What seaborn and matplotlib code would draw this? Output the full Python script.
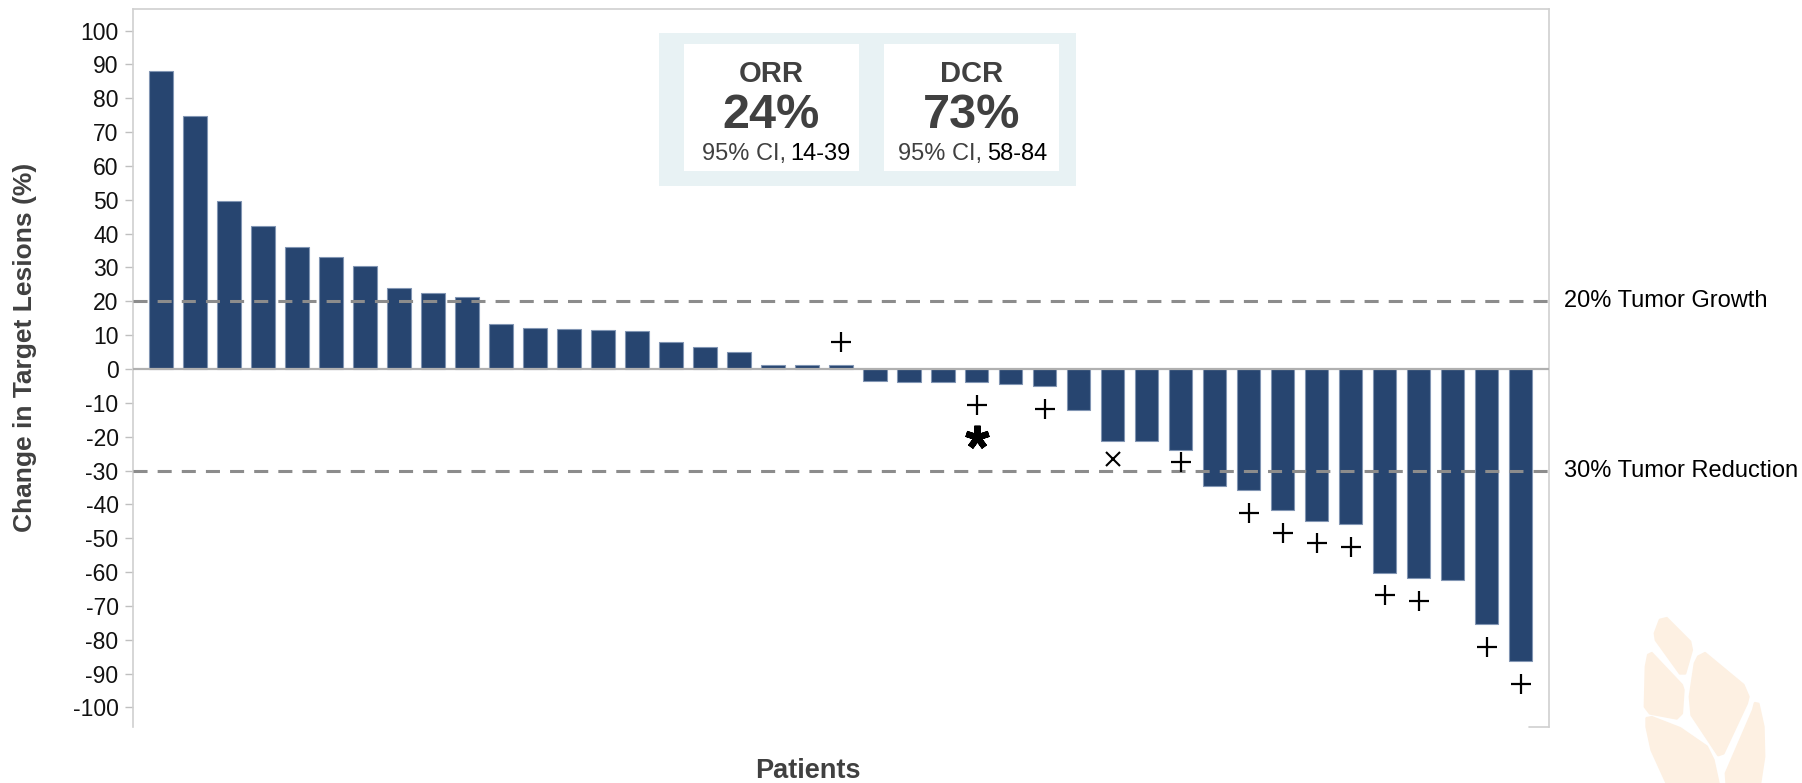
import pandas as pd
import matplotlib
matplotlib.use('Agg')
import matplotlib.pyplot as plt
import matplotlib.transforms as mtransforms
from matplotlib.patches import Rectangle, Polygon
import seaborn as sns

# waterfall values (best % change per patient)
patients = list(range(1, 42))
change = [88.0, 74.7, 49.7, 42.2, 36.1, 33.1, 30.3, 23.9, 22.5, 21.4,
          13.3, 12.2, 11.9, 11.6, 11.1, 7.9, 6.5, 4.9, 1.1, 1.1, 1.1,
          -3.5, -3.9, -3.9, -3.9, -4.5, -5.0, -12.2, -21.2, -21.2, -24.0,
          -34.7, -35.9, -41.8, -44.8, -45.7, -60.3, -61.9, -62.4, -75.5, -86.4]

# (bar position, symbol, gap from bar end)
markers = [(20, '+', 6.8), (24, '+', 6.8), (24, '*', 16.2), (26, '+', 6.7),
           (28, 'x', 5.5), (30, '+', 3.6), (32, '+', 6.7), (33, '+', 6.7),
           (34, '+', 6.7), (35, '+', 6.8), (36, '+', 6.5), (37, '+', 6.7),
           (39, '+', 6.8), (40, '+', 6.8)]

thresholds = [20, -30]
threshold_labels = ['20% Tumor Growth', '30% Tumor Reduction']
yticks = list(range(-100, 101, 10))

stats = [('ORR', '24%', '14-39'), ('DCR', '73%', '58-84')]

df = pd.DataFrame({'patient': patients, 'change': change})

sns.set_style('white')
plt.rcParams['font.family'] = ['Liberation Sans', 'DejaVu Sans']

W, H = 1802, 783
fig = plt.figure(figsize=(W / 100, H / 100), dpi=100)
ax = fig.add_axes([132.5 / W, 1 - 727 / H, (1548.6 - 132.5) / W, (727 - 9.3) / H])

bar_color = '#274570'
sns.barplot(data=df, x='patient', y='change', order=patients, color=bar_color,
            saturation=1, width=0.685, edgecolor='#8195b3', linewidth=0.8, ax=ax)

ax.set_xlim(-0.84, 40.82)
ax.set_ylim(-105.8, 106.3)
ax.set_yticks(yticks)
ax.set_yticklabels([str(t) for t in yticks], fontsize=16.5, color='#111111')
ax.set_xticks([])
ax.set_xlabel('')
ax.set_ylabel('')
ax.tick_params(axis='y', left=True, length=5.5, width=1, color='#bfbfbf', pad=4.5)

for side in ['left', 'top', 'right']:
    ax.spines[side].set_color('#d0d0d0')
    ax.spines[side].set_linewidth(1.2)
ax.spines['bottom'].set_visible(False)
ax.plot([0.9865, 1], [0, 0], transform=ax.transAxes, color='#d0d0d0', lw=1.2, clip_on=False)

ax.axhline(0, color='#b0b0b0', lw=1.6, zorder=3)
blend = mtransforms.blended_transform_factory(ax.transAxes, ax.transData)
for t, lab in zip(thresholds, threshold_labels):
    ax.axhline(t, color='#8c8c8c', lw=2.2, linestyle=(0, (4.6, 3.3)), zorder=4)
    ax.text(1.0109, t, lab, transform=blend, ha='left', va='center', fontsize=17,
            color='black', clip_on=False)

for pos, sym, gap in markers:
    v = change[pos]
    y = v + gap if v > 0 else v - gap
    if sym == '+':
        ax.plot(pos, y, marker='+', ms=14, mew=1.6, color='black', zorder=5)
    elif sym == 'x':
        ax.plot(pos, y, marker='x', ms=10, mew=1.5, color='black', zorder=5)
    else:
        ax.plot(pos, y, marker=(5, 2, 0), ms=17, mew=4.5, color='black', zorder=5)

# axis titles
fig.text(25 / W, 0.556, 'Change in Target Lesions (%)', rotation=90, ha='center', va='center',
         fontsize=19, fontweight='bold', color='#404040')
fig.text(808 / W, 1 - 778 / H, 'Patients', ha='center', va='baseline',
         fontsize=19.5, fontweight='bold', color='#404040')

# ORR / DCR box
def fx(px):
    return px / W

def fy(py):
    return 1 - py / H

fig.patches.append(Rectangle((fx(659.3), fy(185.7)), fx(1076) - fx(659.3), fy(32.5) - fy(185.7),
                             transform=fig.transFigure, facecolor='#e8f2f4', edgecolor='none', zorder=0))
for i, (name, pct, ci) in enumerate(stats):
    left = 684 + i * 200
    fig.patches.append(Rectangle((fx(left), fy(170.7)), fx(175), fy(44) - fy(170.7),
                                 transform=fig.transFigure, facecolor='white', edgecolor='none', zorder=0))
    cx = left + 87.5
    fig.text(fx(cx), fy(81.7), name, ha='center', va='baseline', fontsize=21,
             fontweight='bold', color='#404040')
    fig.text(fx(cx), fy(128.3), pct, ha='center', va='baseline', fontsize=35,
             fontweight='bold', color='#404040')
    split = cx + 17 - i * 3
    fig.text(fx(split - 3), fy(160), '95% CI,', ha='right', va='baseline', fontsize=17, color='#404040')
    fig.text(fx(split + 2), fy(160), ci, ha='left', va='baseline', fontsize=17, color='black')

# faint leaf watermark bottom right
leaf = [
    [(1660, 620), (1666.7, 618.3), (1690, 641.7), (1691.7, 650), (1685, 673.3), (1680, 673.3), (1656, 640), (1655, 633.3)],
    [(1648.3, 655), (1651.7, 653.3), (1681.7, 685), (1683.3, 690), (1681.7, 713.3), (1676.7, 718.3), (1650, 713.3), (1645, 706.7), (1646, 666.7)],
    [(1698.3, 656.7), (1705, 653.3), (1743.3, 685), (1748.3, 696.7), (1746.7, 703.3), (1723.3, 753.3), (1718.3, 755), (1691.7, 715), (1690, 696.7), (1695, 663.3)],
    [(1646.7, 718.3), (1651.7, 717.3), (1680, 728.3), (1706.7, 746.7), (1713.3, 760), (1718.3, 783), (1666.7, 783), (1651.7, 750), (1646.7, 726.7)],
    [(1755, 703.3), (1758.3, 704), (1763.3, 726.7), (1764, 756.7), (1760, 783), (1726.7, 783), (1726, 773.3), (1753.3, 710)],
]
for shape in leaf:
    fig.patches.append(Polygon([(fx(x), fy(y)) for x, y in shape], closed=True, transform=fig.transFigure,
                               facecolor='#fdf0e2', edgecolor='#fdf0e2', lw=2, joinstyle='round', zorder=0))

fig.savefig('out.png', dpi=100)
